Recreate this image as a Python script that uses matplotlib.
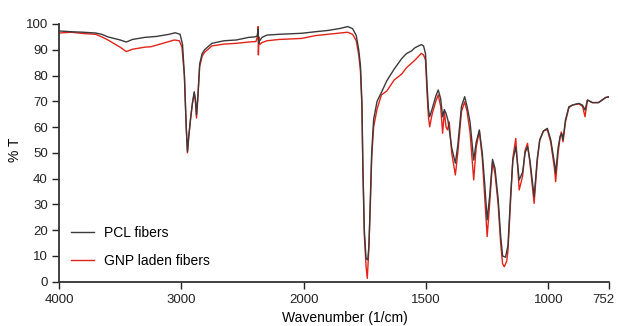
import numpy as np
import matplotlib
matplotlib.use("Agg")
import matplotlib.pyplot as plt
from matplotlib.transforms import ScaledTranslation

plt.rcParams['font.family'] = ['Liberation Sans', 'DejaVu Sans']

pcl_w = [4000, 3900, 3800, 3700, 3650, 3600, 3500, 3450, 3400, 3300, 3200, 3100, 3050, 3010,
         2990, 2975, 2960, 2950, 2940, 2925, 2910, 2895, 2885, 2876, 2865, 2850, 2830, 2810,
         2750, 2650, 2550, 2450, 2400, 2380, 2372, 2368, 2360, 2340, 2300, 2200, 2100, 2016,
         1952, 1900, 1850, 1820, 1800, 1785, 1775, 1768, 1762, 1758, 1752, 1745, 1738, 1733,
         1728, 1722, 1714, 1700, 1682, 1660, 1630, 1600, 1580, 1560, 1545, 1530, 1519, 1510,
         1502, 1495, 1490, 1485, 1475, 1460, 1450, 1440, 1432, 1425, 1418, 1410, 1395, 1380,
         1370, 1355, 1342, 1332, 1320, 1305, 1295, 1282, 1270, 1260, 1250, 1240, 1228, 1218,
         1205, 1195, 1187, 1175, 1165, 1155, 1145, 1133, 1125, 1119, 1105, 1095, 1085, 1075,
         1058, 1045, 1035, 1020, 1004, 990, 975, 970, 960, 952, 945, 940, 930, 916, 900, 875,
         860, 850, 840, 820, 795, 780, 765, 752]
pcl_t = [97.3, 97.0, 96.8, 96.5, 96.0, 95.0, 93.8, 93.0, 94.0, 94.8, 95.2, 96.0, 96.6, 96.0,
         92.0, 80.0, 60.0, 50.5, 56.0, 63.0, 69.0, 73.7, 71.0, 64.7, 72.0, 84.5, 88.5, 90.0,
         92.5, 93.5, 93.8, 94.8, 95.0, 95.3, 98.0, 92.5, 93.5, 94.8, 95.7, 96.0, 96.2, 96.4,
         97.0, 97.5, 98.3, 99.0, 98.2, 95.5, 90.0, 84.0, 70.0, 45.0, 20.0, 9.0, 8.5, 14.0,
         30.0, 50.0, 63.0, 70.0, 73.5, 78.0, 82.5, 86.5, 88.5, 89.5, 90.8, 91.5, 92.0, 91.5,
         88.5, 75.0, 67.0, 64.0, 67.0, 72.0, 74.4, 71.0, 64.0, 66.8, 65.3, 62.5, 52.0, 46.0,
         53.0, 68.0, 71.8, 68.0, 62.0, 47.2, 54.0, 58.9, 50.0, 38.0, 24.0, 33.0, 47.5, 44.0,
         32.0, 18.0, 10.0, 9.5, 14.0, 32.0, 47.0, 52.4, 45.0, 39.5, 42.5, 50.0, 52.4, 47.0,
         33.0, 48.0, 55.0, 58.5, 59.5, 55.0, 46.0, 42.1, 52.0, 56.3, 57.5, 55.0, 62.7, 67.9, 68.6, 69.2,
         68.5, 66.6, 70.5, 69.5, 69.5, 70.5, 71.5, 71.8]

gnp_w = [4000, 3900, 3800, 3700, 3650, 3600, 3500, 3450, 3400, 3300, 3246, 3150, 3057, 3016,
         2995, 2975, 2960, 2950, 2940, 2925, 2910, 2895, 2885, 2876, 2865, 2850, 2830, 2810,
         2750, 2650, 2550, 2450, 2390, 2378, 2372, 2370, 2366, 2360, 2340, 2300, 2200, 2100, 2016,
         1952, 1900, 1850, 1820, 1800, 1785, 1775, 1768, 1762, 1758, 1752, 1745, 1740, 1735,
         1728, 1722, 1714, 1700, 1682, 1660, 1630, 1600, 1580, 1560, 1545, 1530, 1519, 1510,
         1502, 1495, 1490, 1485, 1475, 1460, 1450, 1440, 1432, 1425, 1418, 1412, 1405, 1395, 1380,
         1370, 1355, 1342, 1332, 1320, 1305, 1295, 1282, 1270, 1260, 1250, 1240, 1228, 1218,
         1205, 1195, 1187, 1180, 1170, 1165, 1155, 1145, 1133, 1125, 1119, 1105, 1095, 1085, 1075,
         1058, 1045, 1035, 1020, 1004, 990, 975, 970, 960, 952, 947, 940, 930, 916, 900, 875,
         860, 850, 840, 820, 795, 780, 765, 752]
gnp_t = [96.5, 96.8, 96.3, 96.0, 95.0, 93.8, 91.0, 89.3, 90.2, 91.0, 91.2, 92.5, 93.8, 93.5,
         91.0, 80.0, 60.0, 50.0, 56.0, 63.0, 69.0, 73.0, 70.0, 63.5, 71.0, 83.5, 87.5, 89.0,
         91.5, 92.2, 92.5, 93.0, 93.2, 95.0, 99.0, 88.0, 95.0, 92.0, 92.8, 93.5, 94.0, 94.2, 94.4,
         95.5, 96.0, 96.5, 96.8, 96.0, 93.5, 88.0, 82.0, 68.0, 44.0, 18.0, 6.0, 1.3, 10.0,
         28.0, 48.0, 60.0, 67.0, 72.5, 74.0, 78.3, 80.5, 83.0, 84.7, 86.0, 87.5, 88.6, 88.0,
         86.0, 72.0, 64.0, 60.1, 65.0, 70.0, 72.5, 68.0, 57.6, 66.0, 60.0, 58.9, 62.0, 50.0, 41.4,
         50.0, 66.0, 69.8, 66.0, 58.0, 39.5, 52.0, 58.5, 48.0, 33.0, 17.5, 30.0, 46.5, 42.0,
         30.0, 15.0, 7.0, 5.8, 8.0, 12.0, 30.0, 48.0, 55.6, 44.0, 35.6, 41.0, 51.0, 53.7, 46.0,
         30.4, 47.0, 55.0, 58.5, 59.0, 54.0, 44.0, 38.8, 50.0, 56.0, 58.1, 54.3, 62.0, 67.5, 68.6, 69.0,
         68.0, 64.0, 70.5, 69.5, 69.5, 70.5, 71.5, 71.6]

xticks = [4000, 3000, 2000, 1500, 1000, 752]
yticks = list(range(0, 101, 10))


# wavenumber axis is compressed by 2x above 2000 1/cm
def fwd(w):
    w = np.asarray(w, dtype=float)
    return np.where(w >= 2000, 2000 + (w - 2000) / 2.0, w)


def inv(u):
    u = np.asarray(u, dtype=float)
    return np.where(u >= 2000, 2000 + (u - 2000) * 2.0, u)


fig = plt.figure(figsize=(6.18, 3.26), dpi=100)
ax = fig.add_axes([59/618, 1 - 281.7/326, 550/618, 257.7/326])
ax.set_xscale('function', functions=(fwd, inv))

ax.plot(gnp_w, gnp_t, color="#e2231a", lw=1.0, label="GNP laden fibers", zorder=2)
ax.plot(pcl_w, pcl_t, color="#3a3a3a", lw=1.0, label="PCL fibers", zorder=3)

ax.set_xlim(4000, 752)
ax.set_ylim(0, 100)
ax.set_xticks(xticks)
ax.set_xticklabels([str(t) for t in xticks])
ax.xaxis.set_minor_locator(matplotlib.ticker.NullLocator())
ax.set_yticks(yticks)
ax.tick_params(axis='both', labelsize=9.5, colors="#222222", width=1.0)
ax.tick_params(axis='x', length=5, pad=4)
ax.tick_params(axis='y', length=5, pad=3)
for s in ("top", "right"):
    ax.spines[s].set_visible(False)
for s in ("left", "bottom"):
    ax.spines[s].set_linewidth(1.3)
    ax.spines[s].set_color("#333333")

# last label sits a little left of its tick, as in the original
last = ax.get_xticklabels()[-1]
last.set_transform(last.get_transform() + ScaledTranslation(-6/100, 0, fig.dpi_scale_trans))

h, l = ax.get_legend_handles_labels()
ax.legend(h[::-1], l[::-1], loc="lower left", bbox_to_anchor=(0.022, 0.055),
          frameon=False, fontsize=10, handlelength=1.65, handletextpad=0.75,
          labelspacing=1.0, borderpad=0, borderaxespad=0)

fig.text(15/618, 1 - 150/326, "% T", rotation=90, ha="center", va="center", fontsize=10)
fig.text(345/618, 1 - 311/326, "Wavenumber (1/cm)", ha="center", va="top", fontsize=10)

fig.savefig("out.png", dpi=100)
